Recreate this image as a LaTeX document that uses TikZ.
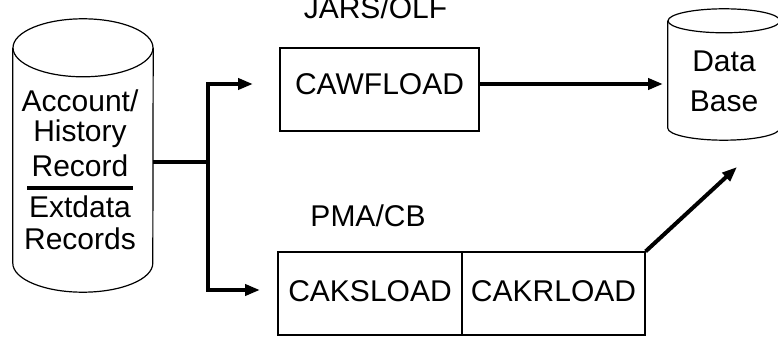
\documentclass[tikz,border=0pt]{standalone}
\usepackage{fontspec}
\setmainfont{Liberation Sans}
\usetikzlibrary{arrows.meta}
\begin{document}
\begin{tikzpicture}[x=1pt,y=1pt,
  lbl/.style={font=\fontsize{30}{34}\selectfont, inner sep=0pt, anchor=base},
  box/.style={draw, line width=1.2pt, inner sep=0pt, minimum height=83pt, font=\fontsize{30}{34}\selectfont},
  flow/.style={line width=4pt, line join=miter, -{Triangle[length=15pt,width=11pt]}},
  cyl/.style={line width=1.2pt}]
\useasboundingbox (0,0) rectangle (778,337);

% left cylinder
\node[inner sep=0pt, minimum width=140pt, minimum height=215pt] (lcyl) at (83,181.5) {};
\draw[cyl] (lcyl.north) ellipse [x radius=70, y radius=29];
\draw[cyl] (lcyl.north west) -- (lcyl.south west) arc[start angle=180, end angle=360, x radius=70, y radius=29] -- (lcyl.north east);
\node[lbl] (file) at (76,339) {File};
\node[lbl] (acc) at (80,225) {Account/};
\node[lbl] (hist) at (80,195) {History};
\node[lbl] (rec) at (80,160) {Record};
\draw[line width=4pt] (27,149) -- (133,149);
\node[lbl] (ext) at (80,119) {Extdata};
\node[lbl] (recs) at (80,87) {Records};

% data base cylinder
\node[inner sep=0pt, minimum width=112pt, minimum height=107pt] (db) at (724,262.5) {};
\draw[cyl] (db.north) ellipse [x radius=56, y radius=12];
\draw[cyl] (db.north west) -- (db.south west) arc[start angle=180, end angle=360, x radius=56, y radius=12] -- (db.north east);
\node[lbl] (data) at (724,265) {Data};
\node[lbl] (base) at (724,225) {Base};

% boxes
\node[lbl] (jars) at (375.5,318) {JARS/OLF};
\node[box, minimum width=199pt, text height=21pt, text depth=10pt] (cawf) at (379.5,247.5) {CAWFLOAD};
\node[lbl] (pma) at (368,110) {PMA/CB};
\node[box, minimum width=184pt, text height=21pt, text depth=4pt] (caks) at (370,43.5) {CAKSLOAD};
\node[box, minimum width=183pt, text height=21pt, text depth=4pt] (cakr) at (553.5,43.5) {CAKRLOAD};

% connectors
\coordinate (j) at (208,175);
\coordinate (t1) at (253,253);
\coordinate (t2) at (260,47);
\coordinate (dbin) at (663,253);
\coordinate (dbin2) at (737,170);
\draw[line width=4pt] (lcyl.east |- j) -- (j);
\draw[flow] (j) |- (t1);
\draw[flow] (j) |- (t2);
\draw[flow] (cawf.east |- t1) -- (dbin);
\draw[flow] (cakr.north east) -- (dbin2);
\end{tikzpicture}
\end{document}
